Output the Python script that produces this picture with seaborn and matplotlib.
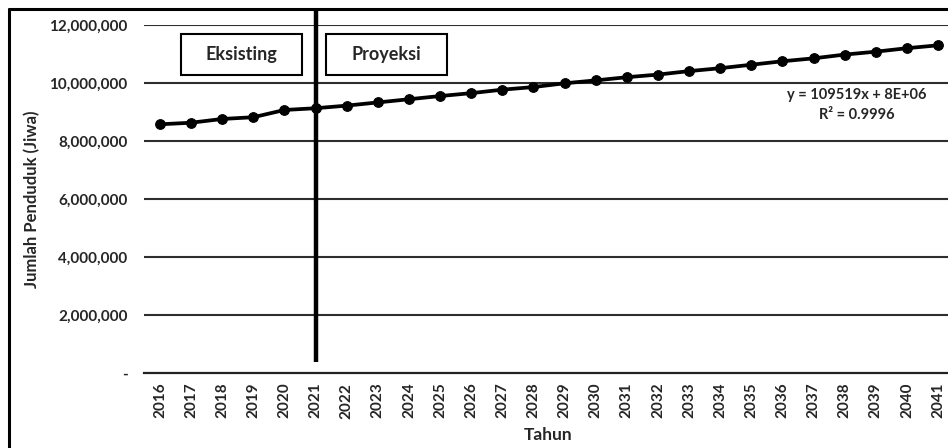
import matplotlib
matplotlib.use("Agg")
import matplotlib.pyplot as plt
import seaborn as sns
import pandas as pd
from matplotlib.ticker import FuncFormatter
from matplotlib.patches import Rectangle

years = [str(y) for y in range(2016, 2042)]
population = [8576000, 8630000, 8760000, 8820000, 9070000, 9130000,
              9220000, 9330000, 9440000, 9550000, 9650000, 9770000,
              9860000, 9990000, 10090000, 10200000, 10290000, 10410000,
              10510000, 10630000, 10750000, 10850000, 10980000, 11080000,
              11200000, 11300000]
yticks = [0, 2000000, 4000000, 6000000, 8000000, 10000000, 12000000]
split_year = "2021"
equation = "y = 109519x + 8E+06"
r2_text = "R² = 0.9996"

sns.set_theme(style="white")
plt.rcParams['font.family'] = ['Lato', 'DejaVu Sans']

df = pd.DataFrame({"Tahun": years, "Jumlah": population})

fig = plt.figure(figsize=(9.48, 4.48), dpi=100)
ax = fig.add_axes([144.4 / 948, 1 - 373 / 448, 809.2 / 948, 348 / 448])

sns.lineplot(data=df, x="Tahun", y="Jumlah", ax=ax, color="black",
             linewidth=2.7, marker="o", markersize=7,
             markeredgecolor="black", markerfacecolor="black", sort=False)

ax.set_xlim(-0.5, len(years) - 0.5)
ax.set_ylim(0, 12000000)
ax.set_yticks(yticks)
ax.yaxis.set_major_formatter(FuncFormatter(lambda v, p: "-" if v == 0 else f"{int(v):,}"))
for yv in yticks[1:]:
    ax.axhline(yv, color="#2e2e2e", linewidth=1.5, zorder=0)

for s in ["left", "right", "top"]:
    ax.spines[s].set_visible(False)
ax.spines["bottom"].set_color("#222222")
ax.spines["bottom"].set_linewidth(1.6)
ax.tick_params(axis="both", length=0)
ax.tick_params(axis="y", pad=12, labelsize=11)
ax.tick_params(axis="x", pad=7, labelsize=11)
plt.setp(ax.get_xticklabels(), rotation=90, fontweight="bold")
plt.setp(ax.get_yticklabels(), fontweight="bold")

ax.set_xlabel("Tahun", fontsize=12.5, fontweight="bold")
ax.set_ylabel("Jumlah Penduduk (Jiwa)", fontsize=12, fontweight="bold")
ax.xaxis.set_label_coords((548 - 144.4) / 809.2, -(435 - 373) / 348)
ax.yaxis.set_label_coords(-(144.4 - 32) / 809.2, 0.5)
ax.xaxis.label.set_va("center")
ax.yaxis.label.set_va("center")

xi = years.index(split_year)
ax.plot([xi, xi], [380000, 12560000], color="black", linewidth=3.2,
        clip_on=False, zorder=5, solid_capstyle="butt")

# boxes
def box(x0, x1, label):
    fx0, fx1 = x0 / 948, x1 / 948
    fy0, fy1 = 1 - 75 / 448, 1 - 34 / 448
    fig.patches.append(Rectangle((fx0, fy0), fx1 - fx0, fy1 - fy0,
                                 transform=fig.transFigure, fill=True,
                                 facecolor="white", edgecolor="black",
                                 linewidth=1.5, zorder=6))
    fig.text((fx0 + fx1) / 2, (fy0 + fy1) / 2, label, ha="center", va="center",
             fontsize=13, fontweight="bold", zorder=7)

box(181, 302, "Eksisting")
box(326, 447, "Proyeksi")

fig.text(857 / 948, 1 - 95 / 448, equation, ha="center", va="center",
         fontsize=10.5, fontweight="bold")
fig.text(857 / 948, 1 - 115 / 448, r2_text, ha="center", va="center",
         fontsize=10.5, fontweight="bold")

# outer frame (left and top visible)
fig.add_artist(plt.Line2D([9 / 948, 9 / 948], [0, 1 - 9 / 448],
                          transform=fig.transFigure, color="black", linewidth=2.2))
fig.add_artist(plt.Line2D([9 / 948, 1], [1 - 9 / 448, 1 - 9 / 448],
                          transform=fig.transFigure, color="black", linewidth=2.2))

fig.savefig("out.png", dpi=100)
